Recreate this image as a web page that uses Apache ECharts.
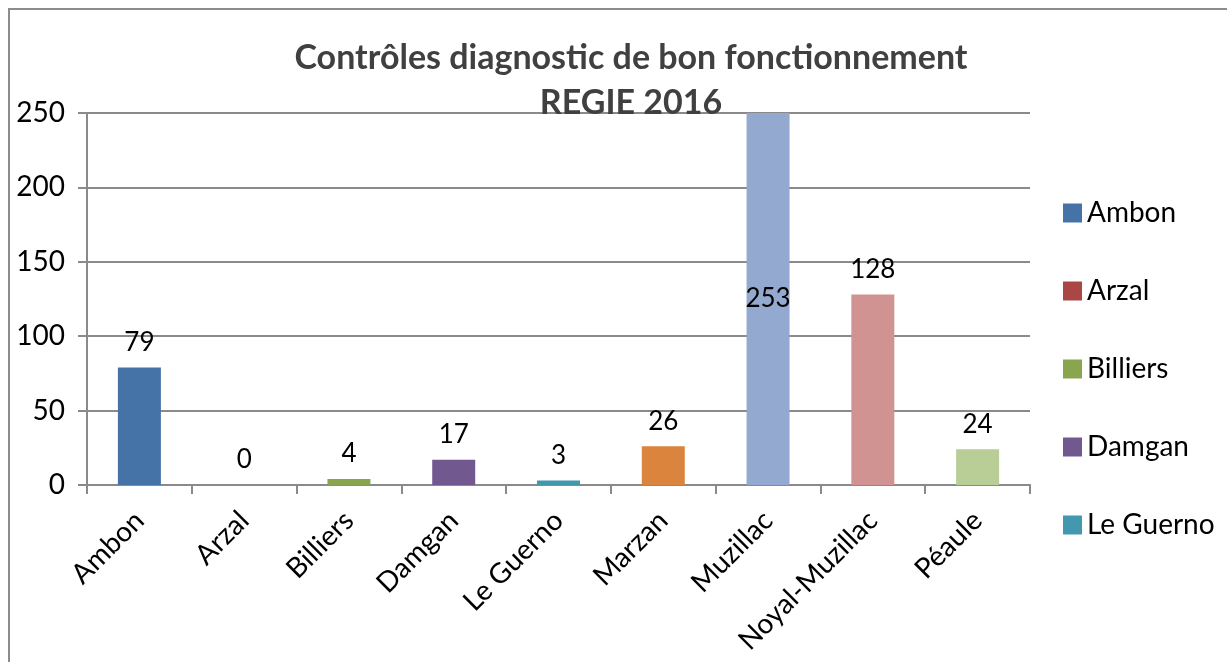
<!DOCTYPE html>
<html>
<head>
<meta charset="utf-8">
<script src="https://cdn.jsdelivr.net/npm/echarts@6/dist/echarts.min.js"></script>
<style>
  html, body { margin: 0; padding: 0; background: #fff; }
  #chart { width: 1227px; height: 662px; }
</style>
</head>
<body>
<div id="chart"></div>
<script>
const categories = ["Ambon", "Arzal", "Billiers", "Damgan", "Le Guerno", "Marzan", "Muzillac", "Noyal-Muzillac", "Péaule"];
const values = [79, 0, 4, 17, 3, 26, 253, 128, 24];
const colors = ["#4572A7", "#AA4643", "#89A54E", "#71588F", "#4198AF", "#DB843D", "#93A9CF", "#D19392", "#B9CD96"];
const legendNames = ["Ambon", "Arzal", "Billiers", "Damgan", "Le Guerno"];
const yTicks = [0, 50, 100, 150, 200, 250];

const font = "Lato, 'Noto Sans', sans-serif";
const gridColor = "#8a8a8a";

const chart = echarts.init(document.getElementById("chart"));

// one series per commune, stacked so each bar stays centered on its category
const series = categories.map((name, i) => ({
  name: name,
  type: "bar",
  stack: "total",
  barWidth: 43,
  data: categories.map((c, j) => (j === i ? values[i] : null)),
  itemStyle: { color: colors[i] },
  label: {
    show: true,
    position: values[i] > yTicks[yTicks.length - 1] ? "inside" : "top",
    distance: 12,
    color: "#000",
    fontSize: 26,
    fontFamily: font,
  },
}));

chart.setOption({
  animation: false,
  textStyle: { fontFamily: font },
  title: {
    text: "Contrôles diagnostic de bon fonctionnement\nREGIE 2016",
    left: 626,
    top: 31,
    textAlign: "center",
    textStyle: {
      fontSize: 34,
      fontWeight: "bold",
      color: "#404040",
      lineHeight: 45,
      fontFamily: font,
    },
  },
  graphic: [
    {
      type: "rect",
      shape: { x: 9, y: 9, width: 1400, height: 800 },
      style: { fill: "none", stroke: "#8c8c8c", lineWidth: 2 },
      silent: true,
    },
  ],
  legend: {
    data: legendNames,
    orient: "vertical",
    left: 1058,
    top: 193,
    itemWidth: 19,
    itemHeight: 19,
    itemGap: 48,
    icon: "rect",
    textStyle: { fontSize: 28, lineHeight: 30, color: "#000", fontFamily: font },
  },
  grid: { left: 87, right: 197, top: 113, bottom: 177 },
  xAxis: {
    type: "category",
    data: categories,
    axisLine: { lineStyle: { color: gridColor, width: 2 } },
    axisTick: { show: true, length: 9, lineStyle: { color: gridColor, width: 2 } },
    axisLabel: { rotate: 45, fontSize: 28, color: "#000", margin: 31, fontFamily: font },
  },
  yAxis: {
    type: "value",
    min: yTicks[0],
    max: yTicks[yTicks.length - 1],
    interval: yTicks[1] - yTicks[0],
    axisLine: { show: true, lineStyle: { color: gridColor, width: 2 } },
    axisTick: { show: true, length: 9, lineStyle: { color: gridColor, width: 2 } },
    axisLabel: { fontSize: 28, color: "#000", margin: 22, fontFamily: font },
    splitLine: { lineStyle: { color: gridColor, width: 2 } },
  },
  series: series,
});
</script>
</body>
</html>
